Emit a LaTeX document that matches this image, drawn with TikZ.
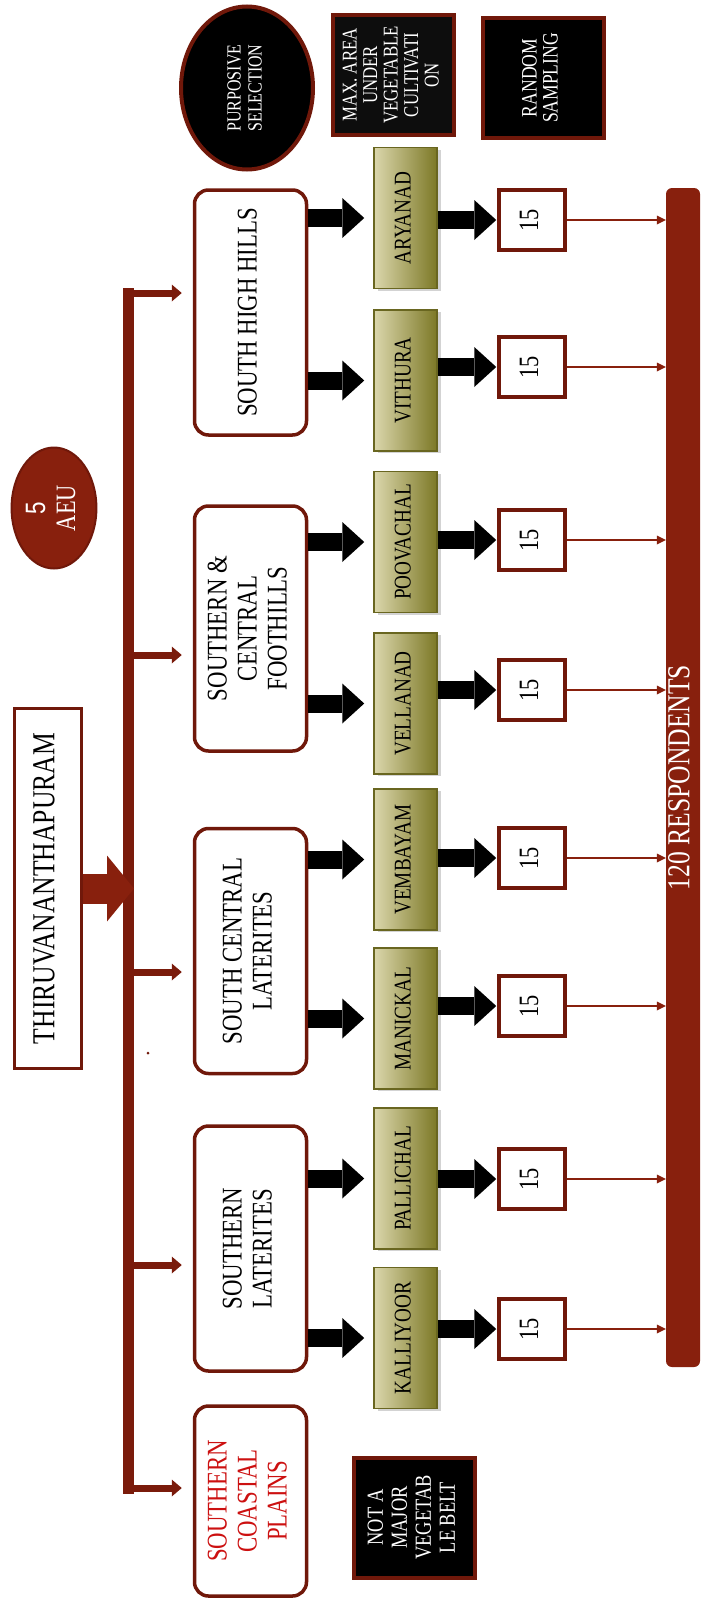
\documentclass[tikz,border=0pt]{standalone}
\usepackage{fontspec}
\setmainfont{Liberation Serif}
\newfontfamily\digitfont{Liberation Sans}
\usetikzlibrary{arrows.meta,shapes.geometric,shadows}
\definecolor{borderred}{RGB}{112,24,10}
\definecolor{trunkred}{RGB}{122,27,11}
\definecolor{barred}{RGB}{136,32,13}
\definecolor{lightolive}{RGB}{219,215,172}
\definecolor{darkolive}{RGB}{124,120,38}
\definecolor{plainred}{RGB}{204,16,16}
\newcommand{\vlabel}[1]{\rotatebox{90}{\scalebox{0.8}[1]{\begin{tabular}{@{}c@{}}#1\end{tabular}}}}
\tikzstyle{region}=[draw=borderred,line width=3.5pt,rounded corners=14pt,fill=white,minimum width=112pt,minimum height=245pt,inner sep=0pt,font=\fontsize{28.5}{30}\selectfont]
\tikzstyle{village}=[draw=darkolive!85!black,line width=1.5pt,left color=lightolive,right color=darkolive,minimum width=63pt,minimum height=141pt,inner sep=0pt,font=\fontsize{24}{26}\selectfont,drop shadow={shadow xshift=4pt,shadow yshift=-2pt,opacity=0.35}]
\tikzstyle{count}=[draw=borderred,line width=3.5pt,fill=white,minimum width=66pt,minimum height=60pt,inner sep=0pt,font=\fontsize{28}{30}\selectfont]
\tikzstyle{note}=[draw=borderred,line width=4pt,fill=black,text=white,minimum width=121pt,minimum height=120pt,inner sep=0pt]
\tikzstyle{trunk}=[draw=trunkred,line width=11pt,line cap=rect]
\tikzstyle{branch}=[draw=trunkred,line width=7pt,-{Triangle[length=10pt,width=17pt,line width=0pt]},shorten >=11pt]
\tikzstyle{mainarrow}=[draw=barred,line width=30pt,-{Triangle[length=27pt,width=66pt,line width=0pt]},shorten >=-6pt]
\tikzstyle{bigarrow}=[draw=black,line width=18pt,-{Triangle[length=22pt,width=40pt,line width=0pt]}]
\tikzstyle{thinarrow}=[draw=barred,line width=1.5pt,-{Triangle[length=9pt,width=9pt,line width=0pt]}]

\begin{document}
\begin{tikzpicture}[x=1pt,y=-1pt]
\useasboundingbox (0,0) rectangle (701,1606);

% selection notes on top
\node[note,ellipse,minimum width=132pt,minimum height=163pt,font=\fontsize{20}{21}\selectfont] (purp) at (247,88) {\vlabel{PURPOSIVE\\SELECTION}};
\node[note,fill=black!95,font=\fontsize{21}{20.5}\selectfont] (maxarea) at (393.5,75) {\vlabel{MAX. AREA\\UNDER\\VEGETABLE\\CULTIVATI\\ON}};
\node[note,font=\fontsize{22}{21}\selectfont] (random) at (543,78) {\vlabel{RANDOM\\SAMPLING}};
\node[note,font=\fontsize{23}{24}\selectfont] (notmajor) at (414,1517.5) {\vlabel{NOT A\\MAJOR\\VEGETAB\\LE BELT}};

% district and zones
\node[ellipse,draw=borderred,fill=barred,line width=2pt,minimum width=84pt,minimum height=121pt,text=white,inner sep=0pt,font=\fontsize{28}{30}\selectfont] (aeu) at (54,508) {\vlabel{{\digitfont 5}\\AEU}};
\node[draw=borderred,line width=3.5pt,fill=white,minimum width=67pt,minimum height=360pt,inner sep=0pt,font=\fontsize{32}{32}\selectfont] (thiru) at (48,888.5) {\vlabel{THIRUVANANTHAPURAM}};

\node[region] (shh) at (250.5,312.5) {\vlabel{SOUTH HIGH HILLS}};
\node[region] (fh) at (250.5,628.5) {\vlabel{SOUTHERN \&\\CENTRAL\\FOOTHILLS}};
\node[region] (scl) at (250.5,951) {\vlabel{SOUTH CENTRAL\\LATERITES}};
\node[region] (sl) at (250.5,1248.5) {\vlabel{SOUTHERN\\LATERITES}};
\node[region,text=plainred,minimum height=190pt] (scp) at (250.5,1501) {\vlabel{SOUTHERN\\COASTAL\\PLAINS}};

% blocks and samples
\foreach \pos/\name/\txt in {{(405.5,218)/ary/ARYANAD}, {(405.5,380.5)/vit/VITHURA}, {(405.5,542)/poo/POOVACHAL},
	{(405.5,703.5)/vel/VELLANAD}, {(405.5,859.5)/vem/VEMBAYAM}, {(405.5,1018.5)/man/MANICKAL},
	{(405.5,1178.5)/pal/PALLICHAL}, {(405.5,1338)/kal/KALLIYOOR}}
	\node[village] (\name) at \pos {\vlabel{\txt}};

\foreach \y/\name in {220/c1, 367/c2, 540/c3, 690/c4, 858/c5, 1006/c6, 1179/c7, 1329/c8}
	\node[count] (\name) at (532,\y) {\vlabel{15}};

\node[fill=barred,rounded corners=6pt,minimum width=34pt,minimum height=1179pt,text=white,inner sep=0pt,font=\fontsize{32}{32}\selectfont] (bar) at (683,777.5) {\vlabel{120 RESPONDENTS}};

% trunk with its branches
\foreach \reg/\y in {shh/293, fh/655, scl/972, sl/1265, scp/1488}
	\coordinate (j-\reg) at (128,\y);
\draw[trunk] (j-shh) -- (j-scp);
\foreach \reg in {shh, fh, scl, sl, scp}
	\draw[branch] (j-\reg) -- (j-\reg -| \reg.west);
\draw[mainarrow] (thiru.east) -- (thiru.east -| j-shh);
\fill[borderred] (148,1053) circle (1.5pt);

% arrows to blocks, samples and total
\foreach \reg/\vil/\cnt in {shh/ary/c1, shh/vit/c2, fh/poo/c3, fh/vel/c4, scl/vem/c5, scl/man/c6, sl/pal/c7, sl/kal/c8}
{
	\draw[bigarrow,shorten >=9pt] (\reg.east |- \vil.west) -- (\vil.west);
	\draw[bigarrow,shorten >=1pt] (\vil.east |- \cnt.west) -- (\cnt.west);
	\draw[thinarrow] (\cnt.east) -- (\cnt.east -| bar.west);
}
\end{tikzpicture}
\end{document}
